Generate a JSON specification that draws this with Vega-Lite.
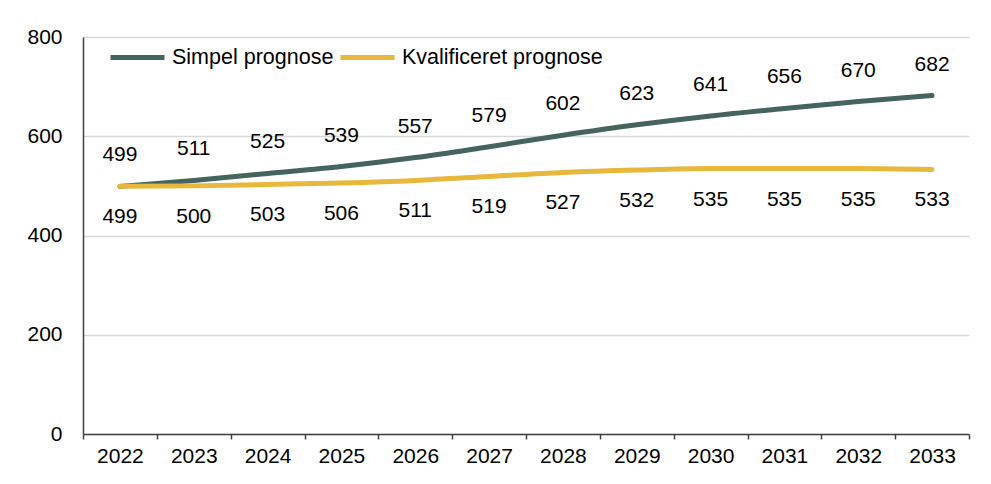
{
  "$schema": "https://vega.github.io/schema/vega-lite/v6.json",
  "width": 886,
  "height": 397,
  "autosize": "none",
  "padding": {"left": 83, "top": 37, "right": 22, "bottom": 50},
  "background": "white",
  "config": {
    "font": "Liberation Sans",
    "view": {"stroke": null},
    "axis": {"labelFont": "Liberation Sans", "labelFontSize": 21, "labelColor": "#000000", "title": null}
  },
  "data": {
    "values": [
      {"year": "2022", "serie": "Simpel prognose", "value": 499},
      {"year": "2023", "serie": "Simpel prognose", "value": 511},
      {"year": "2024", "serie": "Simpel prognose", "value": 525},
      {"year": "2025", "serie": "Simpel prognose", "value": 539},
      {"year": "2026", "serie": "Simpel prognose", "value": 557},
      {"year": "2027", "serie": "Simpel prognose", "value": 579},
      {"year": "2028", "serie": "Simpel prognose", "value": 602},
      {"year": "2029", "serie": "Simpel prognose", "value": 623},
      {"year": "2030", "serie": "Simpel prognose", "value": 641},
      {"year": "2031", "serie": "Simpel prognose", "value": 656},
      {"year": "2032", "serie": "Simpel prognose", "value": 670},
      {"year": "2033", "serie": "Simpel prognose", "value": 682},
      {"year": "2022", "serie": "Kvalificeret prognose", "value": 499},
      {"year": "2023", "serie": "Kvalificeret prognose", "value": 500},
      {"year": "2024", "serie": "Kvalificeret prognose", "value": 503},
      {"year": "2025", "serie": "Kvalificeret prognose", "value": 506},
      {"year": "2026", "serie": "Kvalificeret prognose", "value": 511},
      {"year": "2027", "serie": "Kvalificeret prognose", "value": 519},
      {"year": "2028", "serie": "Kvalificeret prognose", "value": 527},
      {"year": "2029", "serie": "Kvalificeret prognose", "value": 532},
      {"year": "2030", "serie": "Kvalificeret prognose", "value": 535},
      {"year": "2031", "serie": "Kvalificeret prognose", "value": 535},
      {"year": "2032", "serie": "Kvalificeret prognose", "value": 535},
      {"year": "2033", "serie": "Kvalificeret prognose", "value": 533}
    ]
  },
  "encoding": {
    "x": {
      "field": "year",
      "type": "ordinal",
      "bandPosition": 0.5,
      "scale": {"type": "band", "paddingInner": 0, "paddingOuter": 0},
      "axis": {
        "labelAngle": 0,
        "domainColor": "#404040",
        "domainWidth": 1.5,
        "tickColor": "#404040",
        "tickWidth": 1.5,
        "tickSize": 5,
        "tickBand": "extent",
        "labelPadding": 6,
        "grid": false
      }
    },
    "y": {
      "field": "value",
      "type": "quantitative",
      "scale": {"domain": [0, 800], "nice": false},
      "axis": {
        "values": [0, 200, 400, 600, 800],
        "ticks": false,
        "labelPadding": 21,
        "domainColor": "#404040",
        "domainWidth": 1.5,
        "grid": true,
        "gridColor": "#d9d9d9",
        "gridWidth": 1.5
      }
    }
  },
  "layer": [
    {
      "mark": {"type": "line", "interpolate": "monotone", "strokeWidth": 5, "strokeCap": "round"},
      "encoding": {
        "color": {
          "field": "serie",
          "type": "nominal",
          "scale": {"domain": ["Simpel prognose", "Kvalificeret prognose"], "range": ["#45645E", "#E8B83C"]},
          "legend": {
            "title": null,
            "orient": "none",
            "direction": "horizontal",
            "legendX": 25,
            "legendY": -9,
            "padding": 0,
            "symbolType": "stroke",
            "symbolSize": 2916,
            "symbolStrokeWidth": 5,
            "labelFontSize": 21.5,
            "labelFont": "Liberation Sans",
            "labelColor": "#000000",
            "labelOffset": 5,
            "columnPadding": -4,
            "labelLimit": 400
          }
        }
      }
    },
    {
      "transform": [{"filter": "datum.serie === 'Simpel prognose'"}],
      "mark": {"type": "text", "dy": -31, "fontSize": 21, "font": "Liberation Sans", "color": "#000000", "baseline": "middle"},
      "encoding": {"text": {"field": "value", "type": "quantitative"}}
    },
    {
      "transform": [{"filter": "datum.serie === 'Kvalificeret prognose'"}],
      "mark": {"type": "text", "dy": 31, "fontSize": 21, "font": "Liberation Sans", "color": "#000000", "baseline": "middle"},
      "encoding": {"text": {"field": "value", "type": "quantitative"}}
    }
  ]
}
